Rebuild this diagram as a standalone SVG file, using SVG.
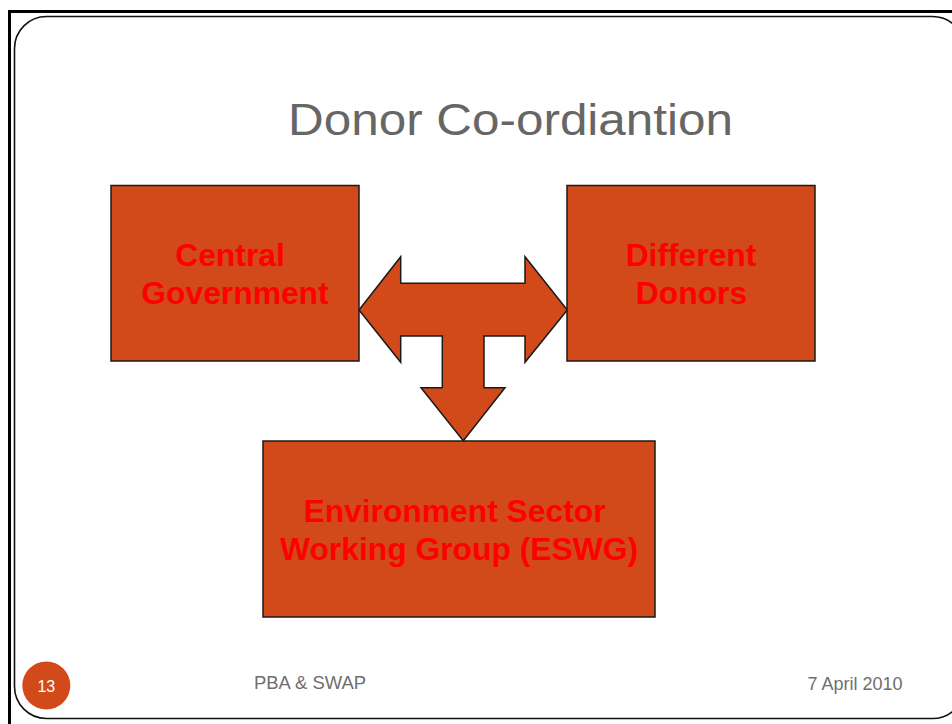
<svg xmlns="http://www.w3.org/2000/svg" width="952" height="724" viewBox="0 0 952 724">
<style>
.box{fill:#D24A19;stroke:#1a1a1a;stroke-width:1.5}
.lbl{font-family:"Liberation Sans",Arial,sans-serif;font-weight:bold;font-size:31.8px;fill:#FF0000;text-anchor:middle}
.foot{font-family:"Liberation Sans",Arial,sans-serif;font-size:18px;fill:#6e6e6e}
</style>
<rect x="0" y="0" width="952" height="724" fill="#ffffff"/>
<path d="M9.5 724 V11.5 H952" fill="none" stroke="#000" stroke-width="3"/>
<rect x="14.5" y="16.5" width="950" height="702" rx="32" ry="32" fill="none" stroke="#111" stroke-width="1.6"/>
<text x="510.5" y="135" font-family="'Liberation Sans',Arial,sans-serif" font-size="45" fill="#666666" text-anchor="middle" textLength="445" lengthAdjust="spacingAndGlyphs">Donor Co-ordiantion</text>
<g id="connectors">
<path class="box" d="M359 310 L400.7 256.7 V283.3 H525 V256.7 L567.3 310 L525 362.3 V336 H484 V387.7 H505 L463.3 440.7 L421 387.7 H442.3 V336 H400.7 V362.3 Z"/>
</g>
<g id="central-government">
<rect class="box" x="111" y="185.5" width="248" height="175.5"/>
<text class="lbl" x="230" y="265.5">Central</text>
<text class="lbl" x="235" y="304">Government</text>
</g>
<g id="different-donors">
<rect class="box" x="567" y="185.5" width="248" height="175.5"/>
<text class="lbl" x="691" y="265.5">Different</text>
<text class="lbl" x="691.5" y="304">Donors</text>
</g>
<g id="eswg">
<rect class="box" x="263" y="441" width="392" height="176"/>
<text class="lbl" x="454.5" y="521.5">Environment Sector</text>
<text class="lbl" x="459" y="560">Working Group (ESWG)</text>
</g>
<g id="slide-number">
<circle cx="46.3" cy="685.5" r="24" fill="#D24A19"/>
<text x="46.3" y="691.5" font-family="'Liberation Sans',Arial,sans-serif" font-size="16" fill="#ffffff" text-anchor="middle">13</text>
</g>
<text class="foot" x="254" y="688.5" textLength="112" lengthAdjust="spacingAndGlyphs">PBA &amp; SWAP</text>
<text class="foot" x="807.5" y="690">7 April 2010</text>
</svg>
